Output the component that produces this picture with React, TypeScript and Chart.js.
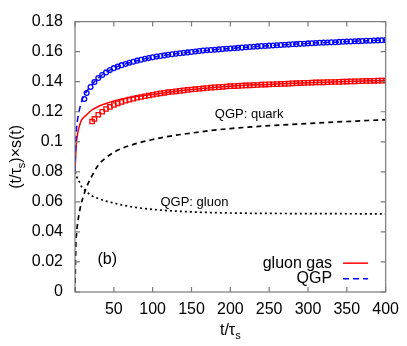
import React, { useEffect, useRef } from "react";
import { Chart, registerables } from "chart.js";

Chart.register(...registerables);

// ---- data ----
const lineX = [0, 1, 2, 4, 6, 8, 10, 15, 20, 30, 40, 50, 60, 80, 100, 125, 150, 175, 200, 250, 300, 350, 400];
const gluonGasLine = [0.080, 0.092, 0.100, 0.107, 0.111, 0.114, 0.1155, 0.118, 0.1205, 0.1235, 0.1255, 0.1272, 0.1285, 0.1302, 0.1315, 0.1333, 0.1348, 0.136, 0.137, 0.1382, 0.1393, 0.1401, 0.1408];
const qgpLine = [0.080, 0.100, 0.109, 0.117, 0.122, 0.126, 0.129, 0.1335, 0.137, 0.1425, 0.1462, 0.149, 0.151, 0.154, 0.1562, 0.1583, 0.1598, 0.1611, 0.1621, 0.164, 0.1655, 0.1667, 0.1677];
const quarkLine = [0.0, 0.03, 0.039, 0.048, 0.054, 0.059, 0.0625, 0.070, 0.0755, 0.0845, 0.0895, 0.093, 0.0955, 0.099, 0.1015, 0.104, 0.1058, 0.1075, 0.1088, 0.1107, 0.1122, 0.1135, 0.1147];
const gluonLine = [0.080, 0.0785, 0.077, 0.0745, 0.073, 0.0705, 0.069, 0.0667, 0.0645, 0.0622, 0.0605, 0.0592, 0.058, 0.0562, 0.055, 0.054, 0.0533, 0.0529, 0.0526, 0.0523, 0.0522, 0.0521, 0.052];

const redMarkerX = [22, 25, 30, 35, 40, 45, 50, 55, 60, 65, 70, 75, 80, 85, 90, 95, 100, 105, 110, 115, 120, 125, 130, 135, 140, 145, 150, 155, 160, 165, 170, 175, 180, 185, 190, 195, 200, 205, 210, 215, 220, 225, 230, 235, 240, 245, 250, 255, 260, 265, 270, 275, 280, 285, 290, 295, 300, 305, 310, 315, 320, 325, 330, 335, 340, 345, 350, 355, 360, 365, 370, 375, 380, 385, 390, 395, 400];
const redMarkerY = [0.1135, 0.1152, 0.118, 0.12, 0.1218, 0.1232, 0.1245, 0.1256, 0.1265, 0.1273, 0.128, 0.1287, 0.1293, 0.1298, 0.1303, 0.1308, 0.1313, 0.1318, 0.1322, 0.1326, 0.133, 0.1333, 0.1336, 0.1339, 0.1342, 0.1345, 0.1348, 0.135, 0.1353, 0.1355, 0.1358, 0.136, 0.1362, 0.1364, 0.1366, 0.1368, 0.137, 0.1371, 0.1372, 0.1374, 0.1375, 0.1376, 0.1377, 0.1378, 0.138, 0.1381, 0.1382, 0.1383, 0.1384, 0.1385, 0.1386, 0.1387, 0.1389, 0.139, 0.1391, 0.1392, 0.1393, 0.1394, 0.1395, 0.1395, 0.1396, 0.1397, 0.1398, 0.1398, 0.1399, 0.14, 0.1401, 0.1402, 0.1402, 0.1403, 0.1404, 0.1405, 0.1405, 0.1406, 0.1407, 0.1407, 0.1408];

const blueMarkerX = [12, 15, 20, 25, 30, 35, 40, 45, 50, 55, 60, 65, 70, 75, 80, 85, 90, 95, 100, 105, 110, 115, 120, 125, 130, 135, 140, 145, 150, 155, 160, 165, 170, 175, 180, 185, 190, 195, 200, 205, 210, 215, 220, 225, 230, 235, 240, 245, 250, 255, 260, 265, 270, 275, 280, 285, 290, 295, 300, 305, 310, 315, 320, 325, 330, 335, 340, 345, 350, 355, 360, 365, 370, 375, 380, 385, 390, 395, 400];
const blueMarkerY = [0.1285, 0.1325, 0.1365, 0.1398, 0.1425, 0.1445, 0.1462, 0.1477, 0.149, 0.15, 0.151, 0.1518, 0.1526, 0.1533, 0.154, 0.1546, 0.1552, 0.1557, 0.1562, 0.1567, 0.1571, 0.1575, 0.1579, 0.1583, 0.1586, 0.1589, 0.1592, 0.1595, 0.1598, 0.1601, 0.1604, 0.1607, 0.1609, 0.1611, 0.1613, 0.1615, 0.1617, 0.1619, 0.1621, 0.1623, 0.1625, 0.1627, 0.1629, 0.1631, 0.1633, 0.1635, 0.1637, 0.1638, 0.164, 0.1641, 0.1643, 0.1644, 0.1646, 0.1647, 0.1649, 0.165, 0.1652, 0.1653, 0.1655, 0.1656, 0.1657, 0.1659, 0.166, 0.1661, 0.1662, 0.1663, 0.1665, 0.1666, 0.1667, 0.1668, 0.1669, 0.167, 0.1671, 0.1672, 0.1673, 0.1674, 0.1675, 0.1676, 0.1677];

const xTickLabels = ["", "50", "100", "150", "200", "250", "300", "350", "400"];
const yTickLabels = ["0", "0.02", "0.04", "0.06", "0.08", "0.1", "0.12", "0.14", "0.16", "0.18"];

const legendLabels = ["gluon gas", "QGP"];
const annotations = { quark: "QGP: quark", gluon: "QGP: gluon", panel: "(b)" };

const RED = "#ff0000";
const BLUE = "#0000ff";
const FONT = "'Liberation Sans', Arial, Helvetica, sans-serif";

const pts = (xs: number[], ys: number[]) => xs.map((x, i) => ({ x, y: ys[i] }));

const decorPlugin = {
  id: "decor",
  afterDraw(chart: any) {
    const ctx = chart.ctx;
    const { left, right, top, bottom } = chart.chartArea;
    const xs = chart.scales.x;
    const ys = chart.scales.y;
    ctx.save();
    // frame
    ctx.strokeStyle = "#7a7a7a";
    ctx.lineWidth = 1.2;
    ctx.strokeRect(left, top, right - left, bottom - top);
    // inward ticks
    ctx.beginPath();
    xs.ticks.forEach((t: any) => {
      const px = xs.getPixelForValue(t.value);
      ctx.moveTo(px, bottom);
      ctx.lineTo(px, bottom - 5);
      ctx.moveTo(px, top);
      ctx.lineTo(px, top + 5);
    });
    ys.ticks.forEach((t: any) => {
      const py = ys.getPixelForValue(t.value);
      ctx.moveTo(left, py);
      ctx.lineTo(left + 5, py);
      ctx.moveTo(right, py);
      ctx.lineTo(right - 5, py);
    });
    ctx.stroke();

    ctx.fillStyle = "#000";
    // annotations
    ctx.textBaseline = "middle";
    ctx.textAlign = "left";
    ctx.font = `13px ${FONT}`;
    ctx.fillText(annotations.quark, xs.getPixelForValue(180), ys.getPixelForValue(0.1185));
    ctx.fillText(annotations.gluon, xs.getPixelForValue(110), ys.getPixelForValue(0.0598));
    ctx.font = `16px ${FONT}`;
    ctx.fillText(annotations.panel, xs.getPixelForValue(29), ys.getPixelForValue(0.0215));

    // legend
    ctx.textAlign = "right";
    ctx.font = `16px ${FONT}`;
    const lx = xs.getPixelForValue(331);
    const ly1 = ys.getPixelForValue(0.0192);
    const ly2 = ys.getPixelForValue(0.0088);
    ctx.fillText(legendLabels[0], lx, ly1);
    ctx.fillText(legendLabels[1], lx, ly2);
    ctx.lineWidth = 1.5;
    ctx.strokeStyle = RED;
    ctx.setLineDash([]);
    ctx.beginPath();
    ctx.moveTo(lx + 11, ly1);
    ctx.lineTo(lx + 36, ly1);
    ctx.stroke();
    ctx.strokeStyle = BLUE;
    ctx.setLineDash([6, 4]);
    ctx.beginPath();
    ctx.moveTo(lx + 11, ly2);
    ctx.lineTo(lx + 36, ly2);
    ctx.stroke();
    ctx.setLineDash([]);

    // x title: t/τ_s
    ctx.textAlign = "left";
    ctx.textBaseline = "alphabetic";
    const main = "t/τ";
    const sub = "s";
    ctx.font = `16px ${FONT}`;
    const wMain = ctx.measureText(main).width;
    ctx.font = `11px ${FONT}`;
    const wSub = ctx.measureText(sub).width;
    const cx = (left + right) / 2;
    const startX = cx - (wMain + wSub) / 2;
    ctx.font = `16px ${FONT}`;
    ctx.fillText(main, startX, 335);
    ctx.font = `11px ${FONT}`;
    ctx.fillText(sub, startX + wMain, 339);

    // y title: (t/τ_s)×s(t)
    ctx.translate(21, (top + bottom) / 2);
    ctx.rotate(-Math.PI / 2);
    const p1 = "(t/τ";
    const p2 = "s";
    const p3 = ")×s(t)";
    ctx.font = `16px ${FONT}`;
    const w1 = ctx.measureText(p1).width;
    const w3 = ctx.measureText(p3).width;
    ctx.font = `11px ${FONT}`;
    const w2 = ctx.measureText(p2).width;
    let sx = -(w1 + w2 + w3) / 2;
    ctx.font = `16px ${FONT}`;
    ctx.fillText(p1, sx, 0);
    sx += w1;
    ctx.font = `11px ${FONT}`;
    ctx.fillText(p2, sx, 4);
    sx += w2;
    ctx.font = `16px ${FONT}`;
    ctx.fillText(p3, sx, 0);
    ctx.restore();
  },
};

export default function App() {
  const ref = useRef<HTMLCanvasElement>(null);
  useEffect(() => {
    if (!ref.current) return;
    const lineBase = {
      showLine: true,
      pointRadius: 0,
      pointHoverRadius: 0,
      fill: false,
      cubicInterpolationMode: "monotone" as const,
    };
    const chart = new Chart(ref.current, {
      type: "scatter",
      data: {
        datasets: [
          {
            label: "QGP markers",
            data: pts(blueMarkerX, blueMarkerY),
            showLine: false,
            pointStyle: "circle",
            pointRadius: 2.4,
            borderColor: BLUE,
            backgroundColor: "rgba(0,0,0,0)",
            borderWidth: 1.3,
          },
          {
            label: "QGP",
            data: pts(lineX, qgpLine),
            ...lineBase,
            borderColor: BLUE,
            borderWidth: 1.5,
            borderDash: [6, 4],
          },
          {
            label: "gluon gas markers",
            data: pts(redMarkerX, redMarkerY),
            showLine: false,
            pointStyle: "rect",
            pointRadius: 3.1,
            borderColor: RED,
            backgroundColor: "rgba(0,0,0,0)",
            borderWidth: 1.3,
          },
          {
            label: "gluon gas",
            data: pts(lineX, gluonGasLine),
            ...lineBase,
            borderColor: RED,
            borderWidth: 1.5,
          },
          {
            label: "QGP: quark",
            data: pts(lineX, quarkLine),
            ...lineBase,
            borderColor: "#000",
            borderWidth: 1.7,
            borderDash: [5, 4],
          },
          {
            label: "QGP: gluon",
            data: pts(lineX, gluonLine),
            ...lineBase,
            borderColor: "#000",
            borderWidth: 1.7,
            borderDash: [2, 3],
          },
        ],
      },
      options: {
        animation: false,
        responsive: false,
        devicePixelRatio: 1,
        layout: { padding: { left: 0, right: 20, top: 8, bottom: 0 } },
        plugins: { legend: { display: false }, tooltip: { enabled: false } },
        events: [],
        scales: {
          x: {
            type: "linear",
            min: 0,
            max: 400,
            grid: { display: false, drawTicks: false },
            border: { display: false },
            ticks: {
              stepSize: 50,
              padding: 8,
              color: "#000",
              font: { family: FONT, size: 16 },
              maxRotation: 0,
              autoSkip: false,
              callback: (_v: any, i: number) => xTickLabels[i],
            },
            afterFit: (s: any) => {
              s.height = 54;
            },
          },
          y: {
            type: "linear",
            min: 0,
            max: 0.18,
            grid: { display: false, drawTicks: false },
            border: { display: false },
            ticks: {
              stepSize: 0.02,
              padding: 12,
              color: "#000",
              font: { family: FONT, size: 16 },
              autoSkip: false,
              callback: (_v: any, i: number) => yTickLabels[i],
            },
            afterFit: (s: any) => {
              s.width = 75;
            },
          },
        },
      },
      plugins: [decorPlugin],
    });
    return () => chart.destroy();
  }, []);
  return (
    <div style={{ position: "fixed", left: 0, top: 0, width: 407, height: 346, background: "#fff" }}>
      <canvas ref={ref} width={407} height={346} style={{ display: "block" }} />
    </div>
  );
}
